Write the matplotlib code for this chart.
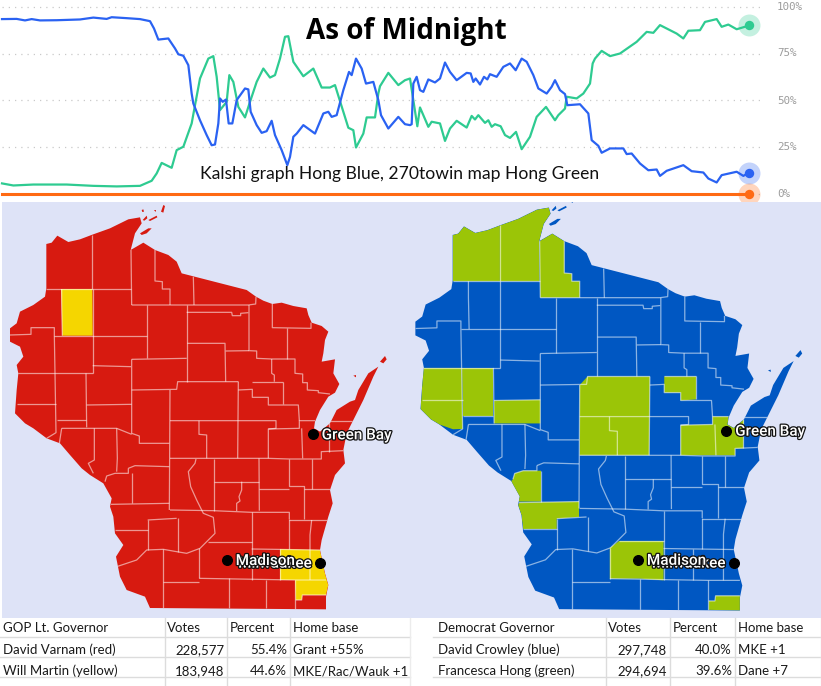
#!/usr/bin/env python3
"""Wisconsin primary snapshot: Kalshi/270toWin odds line on top, two county maps, two result tables."""
import matplotlib
matplotlib.use('Agg')
import matplotlib.pyplot as plt
import matplotlib.patheffects as pe
from matplotlib.collections import LineCollection
from matplotlib.patches import Polygon

# odds series, time in arbitrary ticks, values in percent
blue_time = [6,50,75,95,120,170,240,280,320,335,380,420,450,462,475,505,525,535,550,565,575,580,600,620,635,645,655,660,668,678,686,697,710,735,745,752,770,785,800,815,825,845,862,870,880,890,910,945,970,985,995,1010,1030,1047,1055,1068,1085,1098,1120,1135,1143,1165,1195,1215,1230,
             1235,1240,1250,1260,1270,1285,1305,1320,1335,1350,1370,1400,1412,1420,1427,1440,1452,1462,1470,1490,1510,1530,1547,1565,1580,1600,1615,1640,1655,1665,1680,1695,1702,1740,1765,1775,1795,1805,1830,1870,1880,1895,1920,1945,1970,1980,2000,2050,2075,2110,2125,2150,2165,2210,2230,2248]
blue_pct = [93.3,93.4,92.6,93.3,92.6,92.7,93.1,94.1,93.4,94.3,93.8,93.3,92.2,88.3,82.4,83.0,77.7,74.6,73.8,68.8,53.7,48.4,39.5,31.6,26.2,26.6,37.8,51.1,49.3,50.5,37.8,37.8,50.2,56.4,55.9,44.0,36.9,32.8,33.7,39.2,31.6,23.6,15.6,20.0,30.7,32.4,36.9,32.4,43.1,44.0,41.3,42.2,55.5,65.2,63.5,72.3,67.0,59.0,59.9,50.2,42.2,35.1,41.3,37.4,36.9,
            37.4,59.0,62.6,55.5,54.6,61.2,59.6,61.7,70.2,65.2,60.8,64.7,64.4,59.9,61.7,58.5,62.6,61.2,64.0,62.6,67.9,69.7,66.1,72.3,70.6,63.5,56.4,53.7,57.3,60.8,55.5,53.4,47.5,48.0,43.1,28.9,25.9,22.2,24.5,24.5,21.5,21.8,16.5,12.9,13.3,9.9,12.6,15.6,12.4,11.7,8.5,6.4,10.3,12.1,9.9,11.7]
green_time = [6,40,100,200,280,350,420,455,470,485,515,530,550,575,585,600,625,640,650,660,680,688,700,715,735,750,770,790,810,825,840,855,865,880,910,940,965,990,1005,1030,1045,1060,1068,1090,1100,1125,1135,1140,1165,1195,1215,1230,
              1252,1260,1285,1295,1320,1335,1350,1370,1400,1415,1425,1435,1455,1465,1475,1485,1502,1515,1530,1548,1565,1590,1610,1638,1665,1675,1695,1700,1730,1750,1770,1778,1785,1805,1830,1860,1910,1940,1960,1980,2030,2050,2065,2100,2115,2150,2165,2185,2210,2248]
green_pct = [5.9,4.8,5.3,5.3,4.6,4.3,4.6,7.3,11.2,16.8,14.2,23.6,25.4,37.8,47.5,61.7,72.3,73.6,62.6,44.9,49.3,63.5,59.9,46.6,41.0,49.3,59.9,67.0,62.2,63.5,72.3,83.9,84.2,70.6,62.9,67.0,56.9,56.9,58.2,44.0,35.5,34.2,25.0,32.4,41.0,41.0,53.7,57.6,64.7,58.2,60.8,61.7,
             36.3,46.3,36.0,38.7,37.8,28.5,35.1,39.2,35.6,41.8,39.9,42.2,38.1,39.5,36.0,37.4,36.3,31.6,30.1,33.3,24.1,30.7,41.3,46.6,39.5,42.2,45.7,52.0,51.1,53.7,59.0,69.7,72.3,76.4,73.6,75.0,81.2,86.5,86.0,90.1,85.6,83.0,87.1,87.4,91.8,93.3,89.2,90.4,87.9,89.9]
orange_time = [6, 2248]
orange_pct = [0, 0]
y_ticks = [0, 25, 50, 75, 100]

# map geometry (shared by both maps), traced in map units
state_outline = [(139,132),(155,128),(172,107),(205,126),(240,118),(277,104),(330,85),(385,58),(420,52),(425,70),(405,100),(392,150),(430,128),(465,150),(505,165),(530,185),(545,220),(740,270),(768,290),(790,302),(817,312),(845,308),(880,318),(920,325),(925,345),(935,368),(965,378),(985,395),(975,420),(970,460),(965,485),(1005,478),(1000,520),(1018,552),(1005,578),(985,590),(960,630),(945,665),(942,685),(960,695),(990,670),(1010,630),(1050,605),(1065,600),(1075,570),(1105,520),(1135,500),(1120,530),(1090,600),(1060,660),(1040,700),(1030,750),(1035,790),(1005,825),(990,870),(998,910),(985,950),(965,1020),(960,1050),(975,1120),(985,1155),(978,1190),(978,1228),(450,1224),(435,1190),(380,1170),(360,1130),(348,1070),(370,1035),(345,1000),(340,950),(330,920),(335,895),(310,850),(270,825),(245,805),(210,765),(180,730),(140,715),(100,685),(75,670),(45,640),(50,570),(55,520),(50,495),(70,470),(60,440),(30,425),(30,385),(50,370),(60,335),(100,315),(135,290),(139,265)]
islands = [
    [(483,35),(490,15),(495,18),(490,38)], [(428,60),(440,47),(442,55),(433,62)],
    [(445,60),(470,47),(472,52),(450,63)], [(420,100),(445,85),(455,85),(440,100),(425,105)],
    [(425,30),(430,28),(432,35),(427,36)], [(462,30),(468,30),(467,36)],
    [(1140,485),(1155,468),(1160,478),(1150,490)], [(1060,527),(1068,525),(1068,532)],
]
county_lines = [
    [(277,104),(277,267)], [(139,267),(393,267)], [(185,267),(185,315),(187,407)],
    [(30,405),(93,403),(93,383),(163,383),(163,407),(165,520),(168,698),(140,715)],
    [(163,407),(440,407)], [(278,267),(278,520)], [(50,520),(278,520)], [(278,497),(393,500)],
    [(393,150),(395,315)], [(395,315),(745,315),(767,312),(768,290)], [(440,315),(440,475)],
    [(395,478),(560,475)], [(395,478),(395,700),(418,708),(418,730),(508,730)],
    [(465,150),(465,243),(487,245),(487,267),(510,267),(510,315)], [(580,230),(582,315)],
    [(560,337),(695,337),(697,347),(722,347),(722,340),(745,338)], [(560,315),(560,545)],
    [(747,315),(747,452),(770,453),(770,475),(815,477),(885,477),(885,520),(908,522),(908,548),(922,548),(922,570),(955,572),(955,578),(990,582)],
    [(562,430),(675,430),(677,545)], [(677,453),(747,452)], [(815,477),(815,520),(823,525),(823,545)],
    [(757,545),(850,545)], [(862,385),(862,477)], [(817,312),(817,383),(933,385),(933,368)],
    [(395,570),(530,568),(533,545),(715,545)], [(510,570),(508,930)], [(715,545),(713,775)],
    [(715,570),(757,568),(757,592),(805,592),(805,615),(895,615),(898,662)], [(850,545),(850,612)],
    [(258,520),(260,682)], [(50,613),(168,613)], [(260,615),(395,613)], [(170,660),(258,660)],
    [(185,685),(350,685),(395,703)], [(185,685),(178,730)], [(283,685),(283,780),(265,790),(280,820)],
    [(350,685),(352,775),(350,815)], [(510,662),(828,662),(828,685),(805,687),(805,775)],
    [(597,662),(597,703),(620,705),(620,775)], [(805,687),(898,685),(898,662),(945,662)],
    [(905,685),(908,775)], [(510,775),(805,775),(868,777),(964,777),(964,755),(1030,752)],
    [(988,670),(988,755)], [(990,662),(1060,662)], [(868,777),(868,858),(913,858),(913,958)],
    [(777,775),(778,932)], [(643,777),(643,932)], [(643,845),(777,845)], [(778,868),(868,868)],
    [(935,778),(935,868)], [(913,868),(990,868)],
    [(725,845),(725,870),(717,890),(720,903),(710,910),(710,933)],
    [(510,930),(640,932),(755,937),(868,937),(868,958)],
    [(588,777),(585,790),(565,815),(572,860),(590,900),(610,940),(640,952),(645,1000),(625,1020),(600,1045),(560,1060),(530,1055),(490,1048),(440,1050),(410,1080),(350,1100)],
    [(533,955),(533,1055)], [(443,960),(530,955)], [(443,960),(443,1050)], [(333,913),(508,910)],
    [(345,990),(443,990)], [(397,820),(397,910)], [(385,805),(405,797),(508,800)],
    [(385,805),(385,820),(345,820),(320,828),(315,845)], [(755,937),(755,1140)], [(625,1025),(755,1025)],
    [(755,1047),(960,1050)], [(868,960),(985,960)], [(868,958),(868,1047)],
    [(935,960),(930,1005),(930,1140)], [(840,1047),(840,1140)], [(598,1045),(598,1135)],
    [(488,1048),(488,1225)], [(488,1145),(598,1145)], [(598,1135),(885,1140),(978,1140)],
    [(687,1135),(687,1225)], [(797,1140),(797,1225)], [(885,1140),(885,1227)],
    [(887,1200),(905,1200),(907,1185),(978,1185)],
]

# counties won by the second candidate on each map
yellow_counties = [
    [(183,267),(277,267),(278,407),(187,407),(185,315)],
    [(840,1047),(960,1050),(975,1120),(985,1155),(978,1185),(907,1185),(905,1200),(887,1200),(885,1140),(840,1140)],
]
green_counties = [
    [(139,132),(155,128),(172,107),(205,126),(240,118),(277,104),(277,267),(139,267)],
    [(277,104),(330,85),(385,58),(420,52),(425,70),(405,100),(392,150),(393,267),(277,267)],
    [(393,150),(430,128),(465,150),(465,243),(487,245),(487,267),(510,267),(510,315),(395,315)],
    [(50,520),(165,520),(168,698),(140,699),(100,685),(75,670),(45,640),(50,570)],
    [(165,520),(258,520),(258,660),(170,660)],
    [(260,615),(395,613),(395,682),(260,682)],
    [(533,545),(715,545),(713,775),(510,775),(510,570)],
    [(757,545),(850,545),(850,612),(805,615),(805,592),(757,592)],
    [(805,687),(898,685),(898,662),(945,662),(942,685),(960,695),(990,670),(988,755),(964,755),(964,775),(805,775)],
    [(345,820),(397,820),(397,910),(333,910),(310,850),(315,845),(320,828)],
    [(333,913),(508,910),(508,955),(443,960),(443,990),(345,990),(340,950),(330,920)],
    [(598,1045),(625,1025),(755,1025),(755,1140),(687,1135),(598,1135)],
    [(887,1200),(905,1200),(907,1185),(978,1185),(978,1228),(887,1226)],
]
cities = ['Milwaukee', 'Madison', 'Green Bay']
city_x = [961, 680, 938]
city_y = [1088, 1080, 703]

# result tables
gop_header = ['GOP Lt. Governor', 'Votes', 'Percent', 'Home base']
gop_names = ['David Varnam (red)', 'Will Martin (yellow)']
gop_votes = ['228,577', '183,948']
gop_share = ['55.4%', '44.6%']
gop_base = ['Grant +55%', 'MKE/Rac/Wauk +1']
dem_header = ['Democrat Governor', 'Votes', 'Percent', 'Home base']
dem_names = ['David Crowley (blue)', 'Francesca Hong (green)']
dem_votes = ['297,748', '294,694']
dem_share = ['40.0%', '39.6%']
dem_base = ['MKE +1', 'Dane +7']

W, H = 821, 686
fig = plt.figure(figsize=(W / 100, H / 100), dpi=100, facecolor='white')


def px_axes(x0, y0, x1, y1, **kw):
    return fig.add_axes([x0 / W, 1 - y1 / H, (x1 - x0) / W, (y1 - y0) / H], **kw)


# odds chart
ax = px_axes(0, 0, W, 206)
ax.set_xlim(0, 2463)
ax.set_ylim((194.5 - 206) / 1.88, 194.5 / 1.88)
ax.axis('off')
ax.hlines(y_ticks, 6, 2290, colors='#c9c9c9', linestyles=(0, (1, 4)), linewidth=0.9)
for t in y_ticks:
    ax.text(2331, t, f'{t}%', color='#9c9c9c', fontsize=7.8, family='DejaVu Sans Mono', va='center')
series = [(green_time, green_pct, '#2ecb91'), (blue_time, blue_pct, '#2a62f2'), (orange_time, orange_pct, '#ff6a13')]
for tt, pp, col in series:
    ax.plot(tt, pp, color=col, lw=1.6 if col != '#ff6a13' else 2.2, solid_joinstyle='round')
    ax.scatter(tt[-1], pp[-1], s=250, color=col, alpha=0.28, linewidths=0, zorder=3)
    ax.scatter(tt[-1], pp[-1], s=46, color=col, linewidths=0, zorder=4)


def draw_map(ax, base, alt, alt_counties):
    ax.set_facecolor('#dee3f7')
    ax.set_xticks([])
    ax.set_yticks([])
    for s in ax.spines.values():
        s.set_visible(False)
    state = Polygon(state_outline, closed=True, fc=base, ec='none')
    ax.add_patch(state)
    for isl in islands:
        ax.add_patch(Polygon(isl, closed=True, fc=base, ec='none'))
    for c in alt_counties:
        p = Polygon(c, closed=True, fc=alt, ec='none')
        ax.add_patch(p)
        p.set_clip_path(state)
    lc = LineCollection(county_lines, colors='white', alpha=0.55, linewidths=0.9)
    ax.add_collection(lc)
    lc.set_clip_path(state)
    ax.scatter(city_x, city_y, s=48, color='black', zorder=5)
    for name, cx, cy in zip(cities, city_x, city_y):
        if name == 'Milwaukee':
            ax.annotate(name, (cx, cy), xytext=(-9, -1), textcoords='offset pixels', ha='right', va='center',
                        color='white', fontsize=11, family='Roboto', fontweight='medium', zorder=6,
                        path_effects=[pe.withStroke(linewidth=1.8, foreground='#111111')])
        else:
            ax.annotate(name, (cx, cy), xytext=(9, -1), textcoords='offset pixels', ha='left', va='center',
                        color='white', fontsize=11, family='Roboto', fontweight='medium', zorder=7,
                        path_effects=[pe.withStroke(linewidth=1.8, foreground='#111111')])


# left map: map units are 3x pixels
left = px_axes(2, 202, 410, 618)
left.set_xlim(3 * 2, 3 * 410)
left.set_ylim(3 * 418, 3 * 2)
draw_map(left, '#d71a10', '#f5d600', yellow_counties)

# right map is the same geometry drawn about 3% larger
right = px_axes(410, 202, W, 618)
right.set_xlim(14.7 / 1.027, (3 * 411 + 14.7) / 1.027)
right.set_ylim((3 * 418 + 30.8) / 1.028, (3 * 2 + 30.8) / 1.028)
draw_map(right, '#0057c2', '#9bc507', green_counties)

# overlay for title, caption and tables, in pixel coordinates
top = px_axes(0, 0, W, H)
top.set_xlim(0, W)
top.set_ylim(H, 0)
top.axis('off')
top.patch.set_alpha(0)
top.text(406, 32, 'As of Midnight', ha='center', va='center', fontsize=20.1, fontweight='bold', family='Open Sans', color='black')
top.text(400, 174, 'Kalshi graph Hong Blue, 270towin map Hong Green', ha='center', va='center', fontsize=12.65, family='Lato', color='#111111')


def draw_table(x0, x1, pad, cols, header, names, votes, share, base):
    for yy in [637, 657, 677]:
        top.plot([x0, x1], [yy, yy], color='#dcdcdc', lw=1)
    for xx in cols:
        top.plot([xx, xx], [618, 686], color='#dcdcdc', lw=1)
    top.plot([x1, x1], [618, 686], color='#ececec', lw=1)
    tx = [x0 + pad, cols[0] + 2, cols[1] + 3, cols[2] + 3]
    font = dict(fontsize=9.5, family='Lato', color='#1a1a1a', va='center')
    for xx, label in zip(tx, header):
        top.text(xx, 628, label, **font)
    for i, yy in enumerate([650, 671]):
        top.text(tx[0], yy, names[i], **font)
        top.text(cols[1] - 3, yy, votes[i], ha='right', **font)
        top.text(cols[2] - 3, yy, share[i], ha='right', **font)
        top.text(cols[2] + 3, yy, base[i], **font)


draw_table(0, 410, 3, [165, 227, 290], gop_header, gop_names, gop_votes, gop_share, gop_base)
draw_table(433, 821, 5, [606, 670, 735], dem_header, dem_names, dem_votes, dem_share, dem_base)

fig.savefig('out.png', dpi=100)
